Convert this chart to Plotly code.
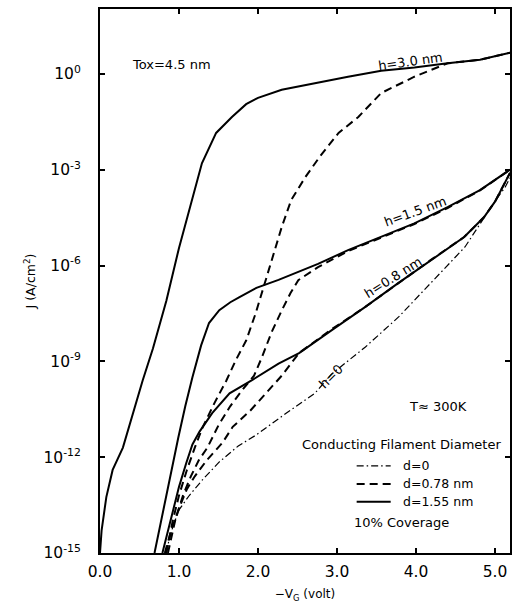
import plotly.graph_objects as go

# ---- data: -V_G (volt) and log10 of J (A/cm^2) ----
# solid: d = 1.55 nm
x_h30_solid = [0.0, 0.02, 0.08, 0.16, 0.29, 0.42, 0.54, 0.67, 0.84, 1.0, 1.17, 1.29, 1.47, 1.67, 1.85, 2.0, 2.3, 2.73, 3.14, 3.56, 3.98, 4.4, 4.81, 5.19]
lg_h30_solid = [-15, -14.3, -13.25, -12.4, -11.7, -10.6, -9.6, -8.6, -7.1, -5.45, -3.9, -2.8, -1.85, -1.35, -0.95, -0.75, -0.5, -0.28, -0.09, 0.1, 0.2, 0.33, 0.44, 0.66]

x_h15_solid = [0.69, 0.78, 0.88, 0.99, 1.08, 1.17, 1.28, 1.38, 1.51, 1.65, 1.76, 1.98, 2.26, 2.51, 2.76, 3.14, 3.56, 3.98, 4.4, 4.81, 5.19]
lg_h15_solid = [-15, -13.9, -12.7, -11.4, -10.4, -9.5, -8.5, -7.8, -7.4, -7.15, -7.0, -6.7, -6.45, -6.2, -5.95, -5.52, -5.11, -4.68, -4.17, -3.64, -3.0]

x_h08_solid = [0.79, 0.84, 0.92, 1.0, 1.09, 1.17, 1.26, 1.42, 1.64, 1.93, 2.26, 2.52, 2.93, 3.35, 3.77, 4.18, 4.61, 4.86, 5.0, 5.19]
lg_h08_solid = [-15, -14.5, -13.65, -12.93, -12.2, -11.6, -11.2, -10.62, -10.0, -9.58, -9.07, -8.74, -8.03, -7.31, -6.56, -5.84, -5.11, -4.49, -4.0, -3.1]

# dashed: d = 0.78 nm
x_h30_dash = [0.84, 0.92, 1.0, 1.1, 1.2, 1.3, 1.45, 1.6, 1.72, 1.85, 1.97, 2.07, 2.17, 2.30, 2.42, 2.60, 2.78, 3.02, 3.27, 3.56, 3.98, 4.40, 4.81, 5.19]
lg_h30_dash = [-15, -14.0, -13.2, -12.4, -11.7, -11.06, -10.3, -9.6, -8.96, -8.35, -7.5, -6.68, -5.84, -4.8, -3.95, -3.23, -2.6, -1.85, -1.35, -0.6, -0.09, 0.33, 0.44, 0.66]

x_h15_dash = [0.86, 0.95, 1.05, 1.15, 1.25, 1.36, 1.5, 1.65, 1.8, 1.95, 2.05, 2.17, 2.30, 2.41, 2.51, 2.76, 3.14, 3.56, 3.98, 4.4, 4.81, 5.19]
lg_h15_dash = [-15, -14.0, -13.2, -12.6, -12.1, -11.7, -11.0, -10.4, -9.9, -9.45, -8.87, -8.1, -7.41, -6.87, -6.46, -6.05, -5.55, -5.12, -4.7, -4.2, -3.65, -3.0]

x_h08_dash = [0.82, 0.9, 1.0, 1.1, 1.2, 1.35, 1.55, 1.68, 1.9, 2.1, 2.3, 2.52, 2.76, 2.93, 3.35, 3.77, 4.18, 4.61, 4.86, 5.0, 5.19]
lg_h08_dash = [-15, -14.3, -13.6, -13.0, -12.6, -12.1, -11.55, -11.05, -10.55, -10.0, -9.45, -8.74, -8.3, -8.0, -7.31, -6.56, -5.84, -5.11, -4.49, -4.0, -3.1]

# dash-dot: d = 0 (h = 0)
x_h0 = [0.83, 0.92, 1.0, 1.13, 1.3, 1.51, 1.75, 1.98, 2.36, 2.72, 2.93, 3.36, 3.78, 4.19, 4.62, 4.95, 5.13, 5.19]
lg_h0 = [-15, -14.2, -13.65, -13.2, -12.7, -12.15, -11.65, -11.3, -10.62, -10.0, -9.4, -8.55, -7.61, -6.55, -5.42, -4.17, -3.54, -3.25]

x_ticks = [0, 1, 2, 3, 4, 5]
x_ticktext = ["0.0", "1.0", "2.0", "3.0", "4.0", "5.0"]
y_exps = [0, -3, -6, -9, -12, -15]
legend_labels = ["d=0", "d=0.78 nm", "d=1.55 nm"]

FONT = "DejaVu Sans, Liberation Sans, Arial, sans-serif"

def J(lgs):
    return [10 ** v for v in lgs]

solid = dict(color="black", width=2)
dashed = dict(color="black", width=2, dash="8px,5px")
dashdot = dict(color="black", width=1.2, dash="7px,3px,1.5px,3px")

fig = go.Figure()
for xs, ls, st in [
    (x_h0, lg_h0, dashdot),
    (x_h30_dash, lg_h30_dash, dashed),
    (x_h15_dash, lg_h15_dash, dashed),
    (x_h08_dash, lg_h08_dash, dashed),
    (x_h30_solid, lg_h30_solid, solid),
    (x_h15_solid, lg_h15_solid, solid),
    (x_h08_solid, lg_h08_solid, solid),
]:
    fig.add_trace(go.Scatter(x=xs, y=J(ls), mode="lines", line=st, showlegend=False))

ann = [
    dict(text="Tox=4.5 nm", x=0.38, y=0.3, xanchor="left", angle=0),
    dict(text="h=3.0 nm", x=3.93, y=0.38, xanchor="center", angle=-8),
    dict(text="h=1.5 nm", x=3.99, y=-4.32, xanchor="center", angle=-20),
    dict(text="h=0.8 nm", x=3.71, y=-6.39, xanchor="center", angle=-32),
    dict(text="h=0", x=2.92, y=-9.46, xanchor="center", angle=-45),
    dict(text="T\u2248 300K", x=4.28, y=-10.4, xanchor="center", angle=0),
    dict(text="Conducting Filament Diameter", x=3.82, y=-11.59, xanchor="center", angle=0),
    dict(text="10% Coverage", x=3.82, y=-14.06, xanchor="center", angle=0),
]
for a in ann:
    fig.add_annotation(text=a["text"], x=a["x"], y=a["y"], xref="x", yref="y",
                       xanchor=a["xanchor"], yanchor="middle", textangle=a["angle"],
                       showarrow=False, font=dict(family=FONT, size=13, color="black"))

# hand-drawn key (line samples + labels), placed in paper fractions
key_styles = [dashdot, dashed, solid]
key_rows = [0.160, 0.127, 0.094]
for lab, st, yy in zip(legend_labels, key_styles, key_rows):
    fig.add_shape(type="line", xref="paper", yref="paper", x0=0.626, x1=0.709, y0=yy, y1=yy,
                  line=st)
    fig.add_annotation(text=lab, xref="paper", yref="paper", x=0.733, y=yy,
                       xanchor="left", yanchor="middle", showarrow=False,
                       font=dict(family=FONT, size=12.5, color="black"))

axis_common = dict(showline=True, linecolor="black", linewidth=2, mirror="ticks",
                   ticks="inside", ticklen=5, tickwidth=2, tickcolor="black",
                   showgrid=False, zeroline=False,
                   tickfont=dict(family=FONT, size=15.5, color="black"))

fig.update_xaxes(range=[0, 5.19], tickvals=x_ticks, ticktext=x_ticktext,
                 ticklabelstandoff=3,
                 title=dict(text="\u2212V<sub>G</sub> (volt)", standoff=10,
                            font=dict(family=FONT, size=12, color="black")),
                 **axis_common)
fig.update_yaxes(type="log", range=[-15, 2.03],
                 tickvals=[10 ** e for e in y_exps],
                 ticktext=["10<sup>%d</sup>" % e for e in y_exps],
                 ticklabelstandoff=14,
                 title=dict(text="J (A/cm<sup>2</sup>)", standoff=5,
                            font=dict(family=FONT, size=12.5, color="black")),
                 **axis_common)

fig.update_layout(
    width=514, height=605,
    margin=dict(l=100, r=2, t=9, b=52),
    paper_bgcolor="white", plot_bgcolor="white",
    showlegend=False,
    font=dict(family=FONT, color="black"),
)

fig.write_html("out.html", config={"displayModeBar": False},
               post_script="document.body.style.margin='0px';document.body.style.overflow='hidden';")
